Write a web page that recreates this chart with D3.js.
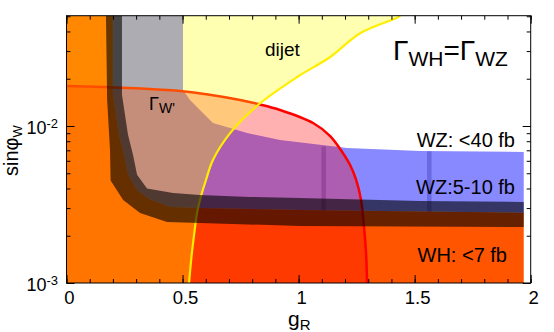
<!DOCTYPE html>
<html>
<head>
<meta charset="utf-8">
<script src="https://cdn.jsdelivr.net/npm/d3@7"></script>
<style>
  body { margin: 0; background: #fff; }
  svg text { font-family: "Liberation Sans", Arial, Helvetica, sans-serif; fill: #000; }
</style>
</head>
<body>
<svg id="chart" width="554" height="332"></svg>
<script>
// axis ranges (g_R, sin phi_W)
const gDomain = [0, 2];
const sDomain = [1e-3, 0.0504];
const gEnd = 1.97;   // scan stops a bit short of the right axis

const xTickValues = [0, 0.5, 1, 1.5, 2];
const xTickLabels = ["0", "0.5", "1", "1.5", "2"];
const yTickValues = [1e-3, 1e-2];
const yTickExps = ["-3", "-2"];

// dijet exclusion boundary (yellow), bottom to top
const dijetCurve = [
  [0.528, 0.001], [0.537, 0.0014], [0.547, 0.00188], [0.5625, 0.00279],
  [0.575, 0.00338], [0.601, 0.00453], [0.631, 0.00607], [0.705, 0.009],
  [0.825, 0.0136], [0.994, 0.0205], [1.136, 0.0275], [1.265, 0.039],
  [1.425, 0.049], [1.4375, 0.0504]
];

// Gamma_W' contour (red), left to right
const gammaWCurve = [
  [0, 0.018], [0.491, 0.0167], [0.748, 0.01465], [0.825, 0.0138],
  [0.92, 0.01265], [1.0625, 0.01045], [1.136, 0.00863], [1.179, 0.00714],
  [1.222, 0.00564], [1.248, 0.00453], [1.269, 0.00338], [1.282, 0.00227],
  [1.291, 0.00151], [1.295, 0.001]
];

// dark uncertainty band of the WH / WZ limit: outer edge, middle, inner edge
const bandOuter = [
  [0.170, 0.0504], [0.175, 0.0147], [0.1875, 0.007], [0.19, 0.0045],
  [0.244, 0.00338], [0.317, 0.00279], [0.433, 0.00245], [0.575, 0.00241],
  [1.006, 0.00231], [1.97, 0.00227]
];
const bandMid = [
  [0.200, 0.0504], [0.200, 0.0158], [0.226, 0.0088], [0.248, 0.0065],
  [0.265, 0.0049], [0.304, 0.0039], [0.36, 0.0034], [0.446, 0.00305],
  [0.575, 0.003], [1.006, 0.00292], [1.97, 0.0028]
];
const bandInner = [
  [0.239, 0.0504], [0.239, 0.0158], [0.265, 0.0088], [0.287, 0.0065],
  [0.304, 0.0049], [0.347, 0.004], [0.459, 0.00374], [0.575, 0.00364],
  [0.791, 0.00353], [1.006, 0.00348], [1.524, 0.00333], [1.97, 0.00328]
];

// upper edge of the WZ region (blue)
const wzTop = [
  [0.502, 0.0504], [0.502, 0.01695], [0.532, 0.01465], [0.631, 0.01045],
  [0.778, 0.00902], [0.92, 0.00814], [1.209, 0.00724], [1.524, 0.00693],
  [1.97, 0.00683]
];

// scan seams visible in the blue region
const seamG = [1.107, 1.562];
const seamTop = [0.0074, 0.0069];
const seamBottom = [0.00228, 0.00228];

const svg = d3.select("#chart");
const x = d3.scaleLinear().domain(gDomain).range([66.5, 530.7]);
const y = d3.scaleLog().domain(sDomain).range([283, 15.7]);

const sBot = sDomain[0], sTop = sDomain[1];

const lineLin = d3.line().x(d => x(d[0])).y(d => y(d[1]));
const lineCR = d3.line().x(d => x(d[0])).y(d => y(d[1])).curve(d3.curveCatmullRom);
const asL = p => "L" + p.slice(1);
const pt = (g, s) => x(g) + "," + y(s);

svg.append("clipPath").attr("id", "plotClip")
  .append("rect")
  .attr("x", x(0)).attr("y", y(sTop))
  .attr("width", x(2) - x(0)).attr("height", y(sBot) - y(sTop));

const plot = svg.append("g").attr("clip-path", "url(#plotClip)");

// WZ region
const midLast = bandMid[bandMid.length - 1];
plot.append("path")
  .attr("d", lineLin(wzTop) + asL(lineLin(bandMid.slice().reverse())) + "Z")
  .attr("fill", "#8888ff");

seamG.forEach((g, i) => {
  plot.append("rect")
    .attr("x", x(g) - 2).attr("width", 4.5)
    .attr("y", y(seamTop[i]))
    .attr("height", y(seamBottom[i]) - y(seamTop[i]))
    .attr("fill", "#2020a0").attr("opacity", 0.3);
});

// WH region
plot.append("path")
  .attr("d", "M" + pt(0, sTop) + asL(lineLin(bandMid)) +
    "L" + pt(gEnd, sBot) + "L" + pt(0, sBot) + "Z")
  .attr("fill", "#ff5500");

// Gamma_W' region and contour
plot.append("path")
  .attr("d", lineCR(gammaWCurve) + "L" + pt(0, sBot) + "Z")
  .attr("fill", "#ff0000").attr("opacity", 0.31);
plot.append("path")
  .attr("d", lineCR(gammaWCurve))
  .attr("fill", "none").attr("stroke", "#ff0000").attr("stroke-width", 2.5);

// dijet region (drawn over the others, pale)
plot.append("path")
  .attr("d", lineCR(dijetCurve) + "L" + pt(0, sTop) + "L" + pt(0, sBot) + "Z")
  .attr("fill", "#ffff00").attr("opacity", 0.3);
plot.append("path")
  .attr("d", lineCR(dijetCurve))
  .attr("fill", "none").attr("stroke", "#ffee00").attr("stroke-width", 2.2);

// dark band
plot.append("path")
  .attr("d", lineLin(bandOuter) + asL(lineLin(bandInner.slice().reverse())) + "Z")
  .attr("fill", "#000").attr("opacity", 0.6);

// frame + inward ticks
const xMinor = d3.range(0, 2.0001, 0.1);
const yMinor = [];
[1e-3, 1e-2].forEach(d => d3.range(2, 10).forEach(k => { if (k * d <= sTop) yMinor.push(k * d); }));

function ticks(axisFn, scale, vals, len, tr) {
  svg.append("g").attr("transform", tr)
    .call(axisFn(scale).tickValues(vals).tickSize(len).tickFormat(""))
    .call(g => g.select(".domain").remove())
    .call(g => g.selectAll("line").attr("stroke", "#000"));
}
ticks(d3.axisBottom, x, xMinor, -4, `translate(0,${y(sBot)})`);
ticks(d3.axisBottom, x, xTickValues, -8, `translate(0,${y(sBot)})`);
ticks(d3.axisTop, x, xMinor, -4, `translate(0,${y(sTop)})`);
ticks(d3.axisTop, x, xTickValues, -8, `translate(0,${y(sTop)})`);
ticks(d3.axisLeft, y, yMinor, -4, `translate(${x(0)},0)`);
ticks(d3.axisLeft, y, yTickValues, -8, `translate(${x(0)},0)`);
ticks(d3.axisRight, y, yMinor, -4, `translate(${x(2)},0)`);
ticks(d3.axisRight, y, yTickValues, -8, `translate(${x(2)},0)`);

svg.append("rect")
  .attr("x", x(0)).attr("y", y(sTop))
  .attr("width", x(2) - x(0)).attr("height", y(sBot) - y(sTop))
  .attr("fill", "none").attr("stroke", "#000").attr("stroke-width", 1);

// tick labels
svg.selectAll(".xlab").data(xTickValues).enter().append("text")
  .attr("x", d => x(d) + 3).attr("y", 304)
  .attr("text-anchor", "middle").attr("font-size", 18.5)
  .text((d, i) => xTickLabels[i]);

yTickValues.forEach((v, i) => {
  const t = svg.append("text")
    .attr("x", 58).attr("y", y(v) + 8)
    .attr("text-anchor", "end").attr("font-size", 18);
  t.append("tspan").text("10");
  t.append("tspan").attr("font-size", 13).attr("dy", -6).text(yTickExps[i]);
});

// axis titles
const xt = svg.append("text").attr("x", 288).attr("y", 326).attr("font-size", 21);
xt.append("tspan").text("g");
xt.append("tspan").attr("font-size", 15).attr("dy", 4).text("R");

const yt = svg.append("text").attr("transform", "translate(18,176) rotate(-90)")
  .attr("font-size", 20);
yt.append("tspan").text("sinφ");
yt.append("tspan").attr("font-size", 13).attr("dy", 4).text("W");

// annotations
svg.append("text").attr("x", 265).attr("y", 56).attr("font-size", 19).text("dijet");

const gw = svg.append("text").attr("x", 149).attr("y", 110).attr("font-size", 18);
gw.append("tspan").text("Γ");
gw.append("tspan").attr("font-size", 14).attr("dy", 3).text("W'");

const eq = svg.append("text").attr("x", 393).attr("y", 60).attr("font-size", 28);
eq.append("tspan").text("Γ");
eq.append("tspan").attr("font-size", 21).attr("dy", 6).text("WH");
eq.append("tspan").attr("dy", -6).text("=Γ");
eq.append("tspan").attr("font-size", 21).attr("dy", 6).text("WZ");

svg.append("text").attr("x", 515).attr("y", 147).attr("text-anchor", "end")
  .attr("font-size", 20).text("WZ: <40 fb");
svg.append("text").attr("x", 515).attr("y", 194).attr("text-anchor", "end")
  .attr("font-size", 20).text("WZ:5-10 fb");
svg.append("text").attr("x", 507).attr("y", 262).attr("text-anchor", "end")
  .attr("font-size", 20).text("WH: <7 fb");
</script>
</body>
</html>
